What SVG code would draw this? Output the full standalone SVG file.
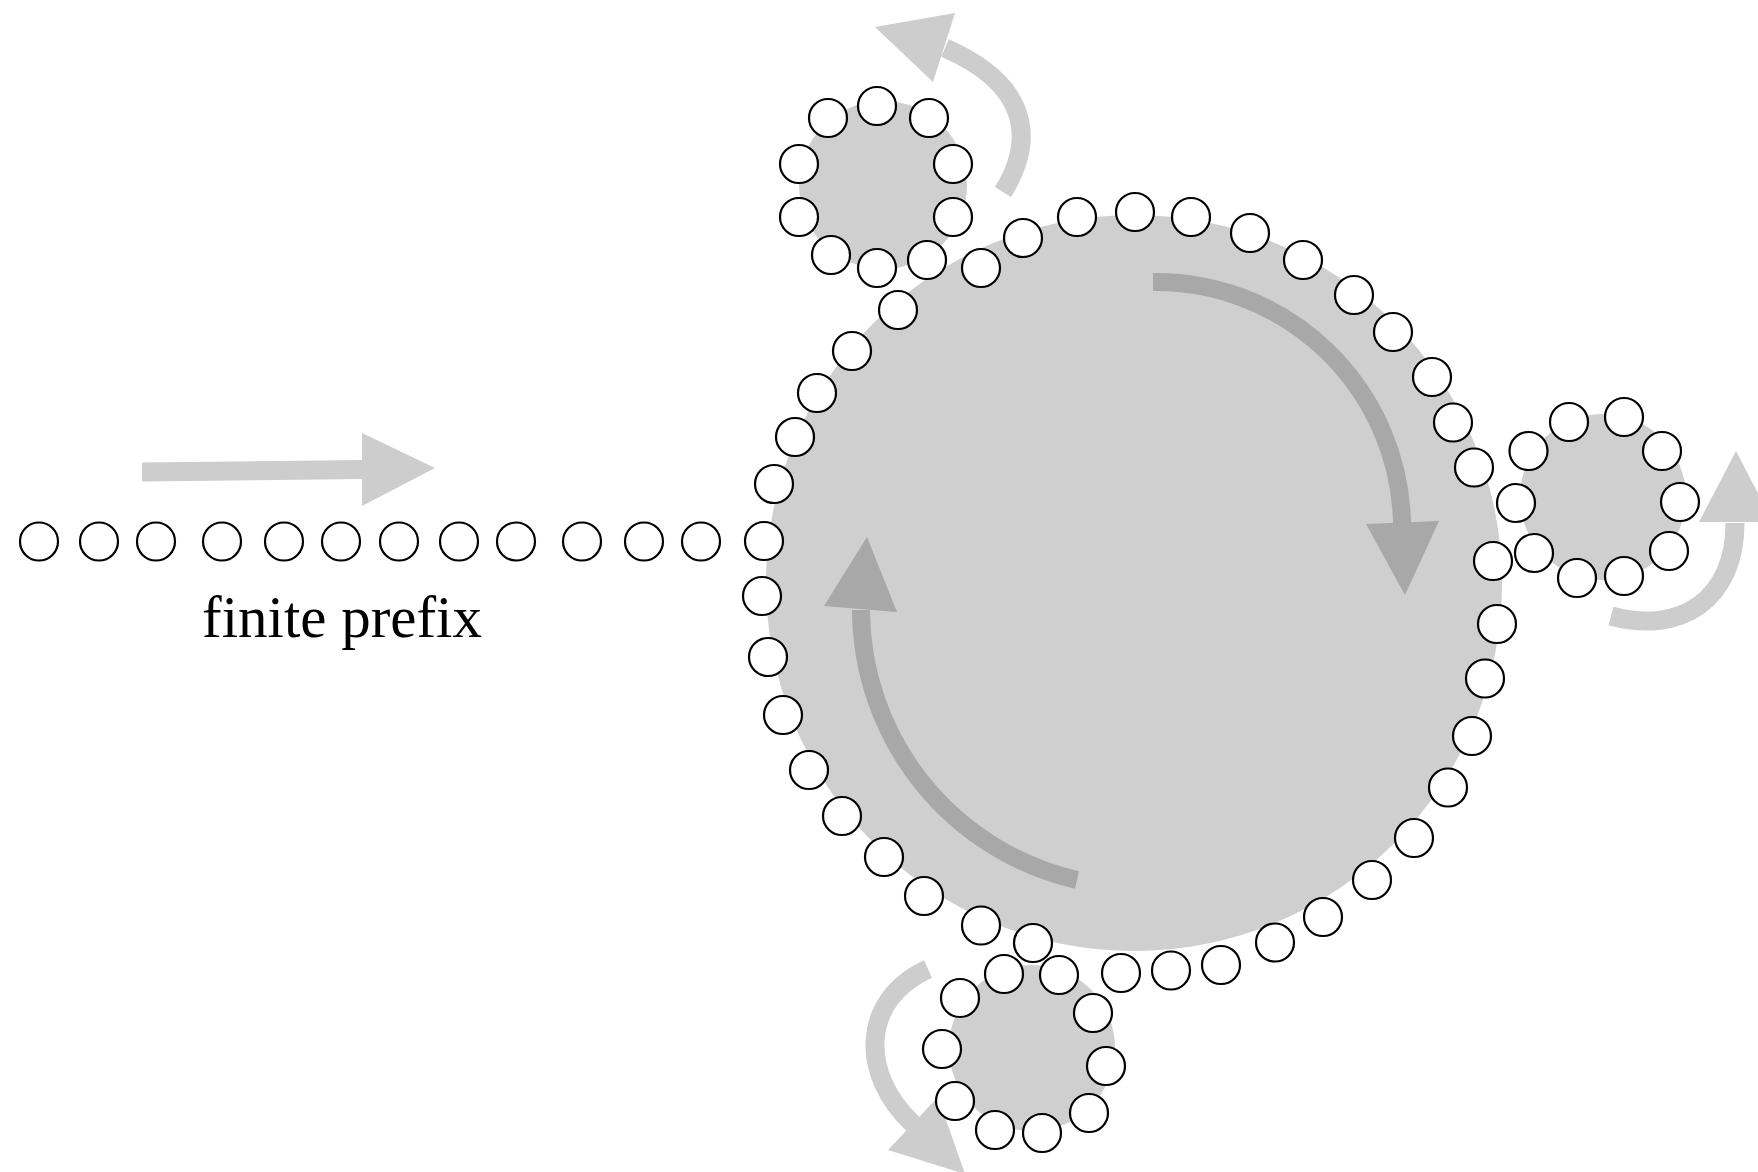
<svg xmlns="http://www.w3.org/2000/svg" width="1758" height="1172" viewBox="0 0 1758 1172">
<defs>
<style>
.disk{fill:#cfcfcf}
.la{fill:none;stroke:#cdcdcd;stroke-width:19}
.lh{fill:#cdcdcd}
.da{fill:none;stroke:#a8a8a8;stroke-width:18}
.dh{fill:#a8a8a8}
.b{fill:#fff;stroke:#000;stroke-width:2.2}
.lbl{font-family:"Liberation Serif","Times New Roman",serif;font-size:60px;fill:#000}
</style>
</defs>
<rect width="1758" height="1172" fill="#fff"/>
<g id="disks">
<circle class="disk" cx="1134" cy="583" r="368"/>
<circle class="disk" cx="883" cy="185" r="84"/>
<circle class="disk" cx="1603" cy="497" r="83"/>
<circle class="disk" cx="1032" cy="1048" r="83"/>
</g>
<g id="connectors">
<path class="la" d="M142,472 L364,469.5"/>
<polygon class="lh" points="362,433 435,468 362,506"/>
<path class="la" d="M1003,192 C1035,140 1030,85 945,48"/>
<polygon class="lh" points="875,27 955,13 933,82"/>
<path class="la" d="M1611,616 C1680,635 1735,600 1735,523"/>
<polygon class="lh" points="1699,522 1773,522 1736,451"/>
<path class="la" d="M928,969 C860,1000 860,1075 913,1124"/>
<polygon class="lh" points="888,1150 938,1097 965,1174"/>
<path class="da" d="M1153,282 A246,246 0 0 1 1402,523"/>
<polygon class="dh" points="1366,524 1439,521 1405,595"/>
<path class="da" d="M1077,880 A278,278 0 0 1 861,610"/>
<polygon class="dh" points="824,606 897,612 867,537"/>
</g>
<g id="prefix">
<circle class="b" cx="39" cy="541.5" r="19"/>
<circle class="b" cx="99" cy="541.5" r="19"/>
<circle class="b" cx="156" cy="541.5" r="19"/>
<circle class="b" cx="222" cy="541.5" r="19"/>
<circle class="b" cx="284" cy="541.5" r="19"/>
<circle class="b" cx="341" cy="541.5" r="19"/>
<circle class="b" cx="399" cy="541.5" r="19"/>
<circle class="b" cx="459" cy="541.5" r="19"/>
<circle class="b" cx="516" cy="541.5" r="19"/>
<circle class="b" cx="582" cy="541.5" r="19"/>
<circle class="b" cx="644" cy="541.5" r="19"/>
<circle class="b" cx="701" cy="541.5" r="19"/>
</g>
<g id="cycle">
<circle class="b" cx="764" cy="541" r="19"/>
<circle class="b" cx="774" cy="484" r="19"/>
<circle class="b" cx="795" cy="437" r="19"/>
<circle class="b" cx="817" cy="393" r="19"/>
<circle class="b" cx="852" cy="351" r="19"/>
<circle class="b" cx="898" cy="310" r="19"/>
<circle class="b" cx="981" cy="268" r="19"/>
<circle class="b" cx="1023" cy="238" r="19"/>
<circle class="b" cx="1077" cy="217" r="19"/>
<circle class="b" cx="1135" cy="212" r="19"/>
<circle class="b" cx="1191" cy="217" r="19"/>
<circle class="b" cx="1250" cy="233" r="19"/>
<circle class="b" cx="1303" cy="260" r="19"/>
<circle class="b" cx="1354" cy="295" r="19"/>
<circle class="b" cx="1393" cy="332" r="19"/>
<circle class="b" cx="1432" cy="377" r="19"/>
<circle class="b" cx="1453" cy="422.5" r="19"/>
<circle class="b" cx="1474" cy="467.5" r="19"/>
<circle class="b" cx="1497" cy="624" r="19"/>
<circle class="b" cx="1485" cy="678.5" r="19"/>
<circle class="b" cx="1472" cy="736" r="19"/>
<circle class="b" cx="1448" cy="787.5" r="19"/>
<circle class="b" cx="1414" cy="838" r="19"/>
<circle class="b" cx="1372" cy="880" r="19"/>
<circle class="b" cx="1323" cy="917" r="19"/>
<circle class="b" cx="1275" cy="942.5" r="19"/>
<circle class="b" cx="1221" cy="965" r="19"/>
<circle class="b" cx="1171" cy="970.5" r="19"/>
<circle class="b" cx="1121" cy="973" r="19"/>
<circle class="b" cx="981" cy="925.5" r="19"/>
<circle class="b" cx="924" cy="896" r="19"/>
<circle class="b" cx="884" cy="857" r="19"/>
<circle class="b" cx="842" cy="816" r="19"/>
<circle class="b" cx="809" cy="770" r="19"/>
<circle class="b" cx="783" cy="715" r="19"/>
<circle class="b" cx="768" cy="657" r="19"/>
<circle class="b" cx="762" cy="596" r="19"/>
</g>
<g id="loop-top">
<circle class="b" cx="927" cy="260" r="19"/>
<circle class="b" cx="877" cy="268" r="19"/>
<circle class="b" cx="831" cy="255" r="19"/>
<circle class="b" cx="799" cy="217" r="19"/>
<circle class="b" cx="799" cy="164" r="19"/>
<circle class="b" cx="828" cy="118" r="19"/>
<circle class="b" cx="877" cy="106" r="19"/>
<circle class="b" cx="929" cy="118" r="19"/>
<circle class="b" cx="953" cy="164" r="19"/>
<circle class="b" cx="953" cy="217" r="19"/>
</g>
<g id="loop-right">
<circle class="b" cx="1516" cy="503" r="19"/>
<circle class="b" cx="1528.5" cy="451" r="19"/>
<circle class="b" cx="1569" cy="422" r="19"/>
<circle class="b" cx="1624" cy="417" r="19"/>
<circle class="b" cx="1662" cy="451" r="19"/>
<circle class="b" cx="1680" cy="502" r="19"/>
<circle class="b" cx="1669" cy="551" r="19"/>
<circle class="b" cx="1624" cy="576" r="19"/>
<circle class="b" cx="1577" cy="578" r="19"/>
<circle class="b" cx="1534" cy="553" r="19"/>
<circle class="b" cx="1493" cy="561" r="19"/>
</g>
<g id="loop-bottom">
<circle class="b" cx="1059" cy="975" r="19"/>
<circle class="b" cx="1093" cy="1013" r="19"/>
<circle class="b" cx="1106" cy="1066" r="19"/>
<circle class="b" cx="1089" cy="1113" r="19"/>
<circle class="b" cx="1042" cy="1133" r="19"/>
<circle class="b" cx="995" cy="1130" r="19"/>
<circle class="b" cx="955" cy="1101" r="19"/>
<circle class="b" cx="942" cy="1049" r="19"/>
<circle class="b" cx="960" cy="998" r="19"/>
<circle class="b" cx="1004" cy="974" r="19"/>
<circle class="b" cx="1033" cy="943" r="19"/>
</g>
<g id="label">
<text class="lbl" x="202" y="637" textLength="280" lengthAdjust="spacingAndGlyphs">finite prefix</text>
</g>
</svg>
